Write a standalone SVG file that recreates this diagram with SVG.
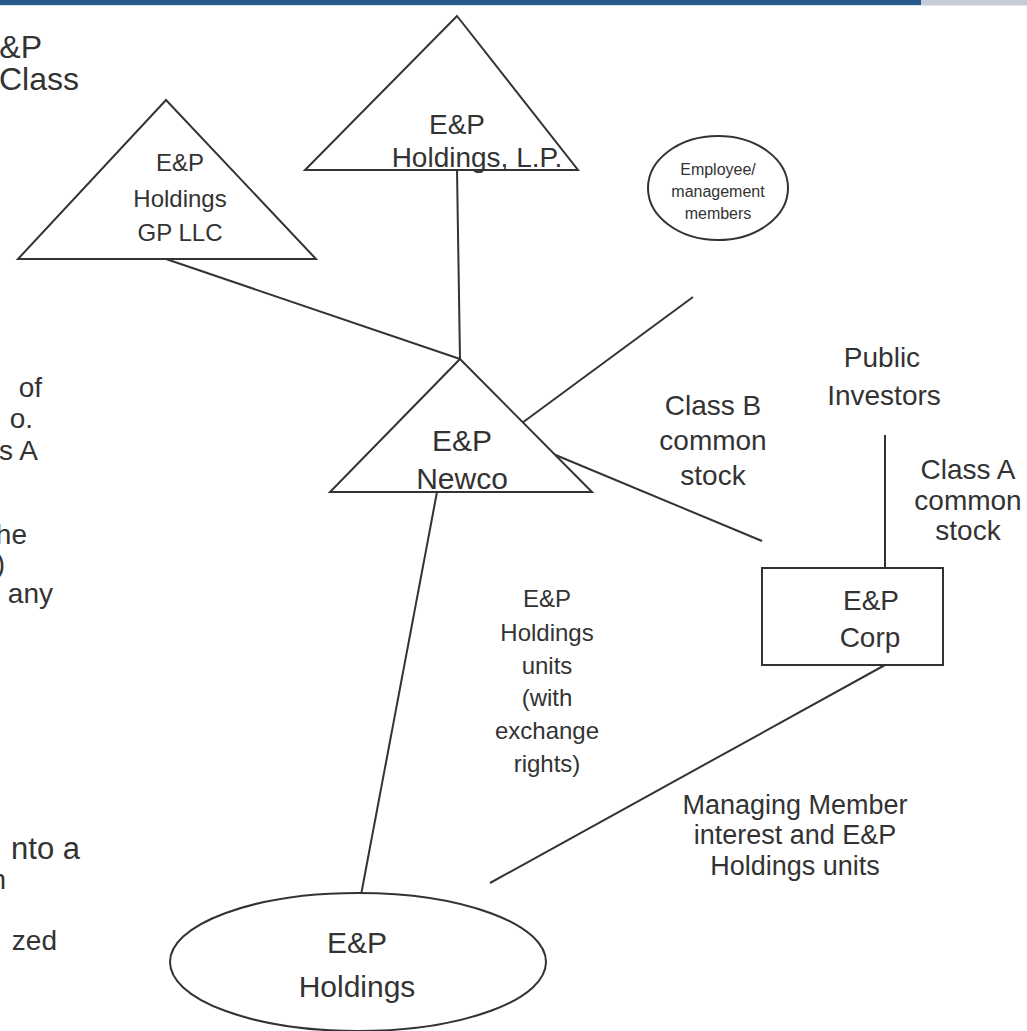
<svg xmlns="http://www.w3.org/2000/svg" width="1027" height="1031" viewBox="0 0 1027 1031">
  <style>
    text { font-family: "Liberation Sans", Arial, sans-serif; fill: #333333; text-anchor: middle; }
    .side { font-size: 32px; text-anchor: end; }
    .side2 { font-size: 28px; text-anchor: end; }
    .lbl { font-size: 24px; }
    .mid { font-size: 28px; }
    .big { font-size: 30px; }
    .sm { font-size: 16px; }
    .note { font-size: 27px; }
    .shape { fill: #ffffff; stroke: #333333; stroke-width: 2; }
    .conn line { stroke: #333333; stroke-width: 2; }
  </style>

  <!-- header band -->
  <rect x="0" y="0" width="921" height="5" fill="#275b8c"/>
  <rect x="921" y="0" width="106" height="5" fill="#c5ccd8"/>
  <rect x="0" y="5" width="1027" height="1" fill="#dfe4ec"/>

  <!-- body text running off the left edge -->
  <g id="side-text">
    <text x="42" y="58" class="side">E&amp;P</text>
    <text x="79" y="90" class="side">Class</text>
    <text x="42" y="397" class="side2">of</text>
    <text x="33" y="428" class="side2">o.</text>
    <text x="38" y="460" class="side2">s A</text>
    <text x="27" y="544" class="side2">he</text>
    <text x="5" y="573" class="side2">)</text>
    <text x="53" y="603" class="side2">any</text>
    <text x="80" y="859" class="side" style="font-size:31px">nto a</text>
    <text x="6" y="889" class="side2">n</text>
    <text x="57" y="950" class="side2">zed</text>
  </g>

  <!-- connectors -->
  <g id="connectors" class="conn">
    <line x1="457" y1="170" x2="460" y2="359"/>
    <line x1="166" y1="259" x2="460" y2="359"/>
    <line x1="693" y1="297" x2="522" y2="423"/>
    <line x1="546" y1="451" x2="762" y2="541"/>
    <line x1="885" y1="435" x2="885" y2="567"/>
    <line x1="437" y1="492" x2="361" y2="895"/>
    <line x1="885" y1="665" x2="490" y2="883"/>
  </g>

  <!-- nodes -->
  <g id="holdings-lp">
    <polygon class="shape" points="457,16 578,170 305,170"/>
    <text x="457" y="134" class="mid">E&amp;P</text>
    <text x="477" y="167" class="mid">Holdings, L.P.</text>
  </g>

  <g id="holdings-gp">
    <polygon class="shape" points="166,100 316,259 18,259"/>
    <text x="180" y="171" class="lbl">E&amp;P</text>
    <text x="180" y="207" class="lbl">Holdings</text>
    <text x="180" y="241" class="lbl">GP LLC</text>
  </g>

  <g id="employees">
    <ellipse class="shape" cx="718" cy="188" rx="70" ry="52"/>
    <text x="718" y="175" class="sm">Employee/</text>
    <text x="718" y="197" class="sm">management</text>
    <text x="718" y="219" class="sm">members</text>
  </g>

  <g id="newco">
    <polygon class="shape" points="460,359 592,492 330,492"/>
    <text x="462" y="451" class="big">E&amp;P</text>
    <text x="462" y="489" class="big">Newco</text>
  </g>

  <g id="public">
    <text x="882" y="367" class="mid">Public</text>
    <text x="884" y="405" class="mid">Investors</text>
  </g>

  <g id="corp">
    <rect class="shape" x="762" y="568" width="181" height="97"/>
    <text x="871" y="610" class="mid">E&amp;P</text>
    <text x="870" y="647" class="mid">Corp</text>
  </g>

  <g id="holdings">
    <ellipse class="shape" cx="358" cy="962" rx="188" ry="69"/>
    <text x="357" y="953" class="big">E&amp;P</text>
    <text x="357" y="997" class="big">Holdings</text>
  </g>

  <!-- connector labels -->
  <g id="labels">
    <text x="713" y="415" class="mid">Class B</text>
    <text x="713" y="450" class="mid">common</text>
    <text x="713" y="485" class="mid">stock</text>

    <text x="968" y="479" class="mid">Class A</text>
    <text x="968" y="510" class="mid">common</text>
    <text x="968" y="540" class="mid">stock</text>

    <text x="547" y="607" class="lbl">E&amp;P</text>
    <text x="547" y="641" class="lbl">Holdings</text>
    <text x="547" y="674" class="lbl">units</text>
    <text x="547" y="706" class="lbl">(with</text>
    <text x="547" y="739" class="lbl">exchange</text>
    <text x="547" y="772" class="lbl">rights)</text>

    <text x="795" y="814" class="note">Managing Member</text>
    <text x="795" y="844" class="note">interest and E&amp;P</text>
    <text x="795" y="875" class="note">Holdings units</text>
  </g>
</svg>
